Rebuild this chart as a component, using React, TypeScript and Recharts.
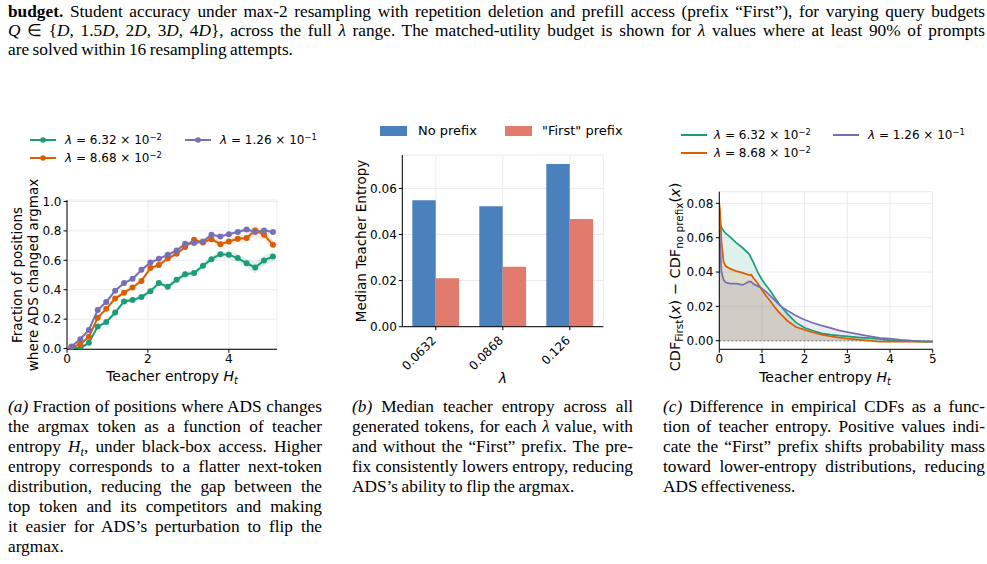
import React from 'react';
import {
  ComposedChart,
  BarChart,
  Bar,
  Line,
  Area,
  XAxis,
  YAxis,
  CartesianGrid,
  ReferenceLine,
} from 'recharts';

// ---------- palette & fonts ----------
const GREEN = '#1b9e77';
const ORANGE = '#d95f02';
const PURPLE = '#7570b3';
const BAR_BLUE = '#4a80bb';
const BAR_RED = '#e07b6d';
const GRID = '#ebebeb';
const SANS = '"DejaVu Sans", Verdana, sans-serif';
const SERIF = '"Liberation Serif", "Times New Roman", serif';

// ---------- (a) argmax flip rate vs. teacher entropy ----------
const entropyBins = [
  0.11, 0.33, 0.54, 0.76, 0.97, 1.19, 1.41, 1.62, 1.84, 2.06, 2.27, 2.49,
  2.71, 2.92, 3.14, 3.36, 3.57, 3.79, 4.0, 4.22, 4.44, 4.65, 4.87, 5.09,
];
const flipLam632 = [
  0.007, 0.003, 0.04, 0.15, 0.18, 0.245, 0.32, 0.33, 0.35, 0.39, 0.445, 0.42,
  0.467, 0.506, 0.513, 0.563, 0.608, 0.642, 0.637, 0.615, 0.58, 0.551, 0.599, 0.626,
];
const flipLam868 = [
  0.007, 0.03, 0.08, 0.21, 0.27, 0.34, 0.38, 0.415, 0.46, 0.547, 0.568, 0.612,
  0.645, 0.69, 0.739, 0.721, 0.744, 0.71, 0.728, 0.746, 0.751, 0.803, 0.773, 0.705,
];
const flipLam126 = [
  0.014, 0.064, 0.127, 0.263, 0.316, 0.393, 0.445, 0.474, 0.535, 0.585, 0.61, 0.637,
  0.667, 0.712, 0.717, 0.728, 0.773, 0.762, 0.778, 0.792, 0.81, 0.792, 0.803, 0.792,
];
const flipErr632 = [
  0.005, 0.005, 0.008, 0.012, 0.012, 0.013, 0.014, 0.014, 0.014, 0.015, 0.018, 0.017,
  0.018, 0.02, 0.02, 0.02, 0.022, 0.022, 0.025, 0.028, 0.03, 0.04, 0.035, 0.03,
];
const flipErr868 = [
  0.005, 0.006, 0.01, 0.012, 0.012, 0.012, 0.013, 0.013, 0.014, 0.014, 0.015, 0.015,
  0.016, 0.017, 0.02, 0.018, 0.02, 0.02, 0.022, 0.024, 0.025, 0.04, 0.035, 0.03,
];
const flipErr126 = [
  0.005, 0.008, 0.01, 0.012, 0.012, 0.012, 0.012, 0.012, 0.012, 0.012, 0.012, 0.012,
  0.012, 0.012, 0.013, 0.013, 0.014, 0.014, 0.014, 0.015, 0.015, 0.016, 0.016, 0.016,
];
const flipTicksX = [0, 2, 4];
const flipTicksY = [0, 0.2, 0.4, 0.6, 0.8, 1.0];

// ---------- (b) median teacher entropy ----------
const lambdaLabels = ['0.0632', '0.0868', '0.126'];
const medianNoPrefix = [0.0549, 0.0523, 0.0706];
const medianFirstPrefix = [0.021, 0.026, 0.0467];
const medianTicksY = [0, 0.02, 0.04, 0.06];

// ---------- (c) CDF difference ----------
const cdfEntropy = [
  0, 0.02, 0.05, 0.1, 0.15, 0.25, 0.4, 0.55, 0.7, 0.75, 0.8, 0.9, 1.0, 1.1, 1.2,
  1.3, 1.4, 1.5, 1.6, 1.8, 2.0, 2.2, 2.4, 2.6, 2.8, 3.0, 3.25, 3.5, 3.75, 4.0,
  4.25, 4.5, 4.75, 5.0,
];
const cdfDiff632 = [
  0.068, 0.068, 0.066, 0.064, 0.0625, 0.0605, 0.057, 0.054, 0.0505, 0.048, 0.0455,
  0.04, 0.0355, 0.032, 0.029, 0.025, 0.0215, 0.0185, 0.0155, 0.0105, 0.0075, 0.0058,
  0.0043, 0.0035, 0.003, 0.0025, 0.002, 0.0015, 0.001, 0.0004, 0.0, -0.0003, -0.0005,
  -0.0005,
];
const cdfDiff868 = [
  0.08, 0.075, 0.058, 0.046, 0.0435, 0.042, 0.0405, 0.0395, 0.0382, 0.0385, 0.0365,
  0.0335, 0.0295, 0.026, 0.023, 0.0195, 0.0165, 0.014, 0.0115, 0.008, 0.0063, 0.0048,
  0.0035, 0.0026, 0.0018, 0.0012, 0.0006, 0.0, -0.0006, -0.0005, -0.0005, -0.0005,
  -0.0006, -0.0006,
];
const cdfDiff126 = [
  0.065, 0.055, 0.04, 0.0355, 0.034, 0.0333, 0.0333, 0.0325, 0.0345, 0.0343, 0.033,
  0.0318, 0.0305, 0.0285, 0.026, 0.0235, 0.021, 0.019, 0.0175, 0.0145, 0.0122, 0.0103,
  0.0088, 0.0075, 0.006, 0.005, 0.0038, 0.0027, 0.0017, 0.0012, 0.0005, 0.0, -0.0003,
  -0.0005,
];
const cdfTicksX = [0, 1, 2, 3, 4, 5];
const cdfTicksY = [0, 0.02, 0.04, 0.06, 0.08];

// ---------- tables for the charts ----------
const flipRows = entropyBins.map((h, i) => ({
  h,
  a: flipLam632[i],
  b: flipLam868[i],
  c: flipLam126[i],
  aBand: [flipLam632[i] - flipErr632[i], flipLam632[i] + flipErr632[i]],
  bBand: [flipLam868[i] - flipErr868[i], flipLam868[i] + flipErr868[i]],
  cBand: [flipLam126[i] - flipErr126[i], flipLam126[i] + flipErr126[i]],
}));

const medianRows = lambdaLabels.map((lam, i) => ({
  lam,
  none: medianNoPrefix[i],
  first: medianFirstPrefix[i],
}));

const cdfRows = cdfEntropy.map((h, i) => ({
  h,
  a: cdfDiff632[i],
  b: cdfDiff868[i],
  c: cdfDiff126[i],
}));

// ---------- shared axis styling ----------
const tickStyle = { fill: '#000', fontSize: 12, fontFamily: SANS };
const axisStroke = { stroke: '#000', strokeWidth: 1 };

// ---------- small text helpers ----------
const Sup = ({ children }: { children: React.ReactNode }) => (
  <span style={{ fontSize: '0.7em', position: 'relative', top: '-0.5em' }}>{children}</span>
);
const Sub = ({ children, size = '0.7em' }: { children: React.ReactNode; size?: string }) => (
  <span style={{ fontSize: size, position: 'relative', top: '0.3em' }}>{children}</span>
);

const LambdaText = ({ mant, exp }: { mant: string; exp: string }) => (
  <span>
    <i>λ</i> = {mant} × 10<Sup>−{exp}</Sup>
  </span>
);

const Abs = ({
  left,
  top,
  children,
}: {
  left: number;
  top: number;
  children: React.ReactNode;
}) => <div style={{ position: 'absolute', left, top }}>{children}</div>;

// a piece of text centred on (cx, cy), optionally turned to read bottom-to-top
const Centered = ({
  cx,
  cy,
  rotate,
  size,
  children,
}: {
  cx: number;
  cy: number;
  rotate?: boolean;
  size: number;
  children: React.ReactNode;
}) => (
  <div
    style={{
      position: 'absolute',
      left: cx,
      top: cy,
      transform: `translate(-50%, -50%)${rotate ? ' rotate(-90deg)' : ''}`,
      whiteSpace: 'nowrap',
      fontFamily: SANS,
      fontSize: size,
      lineHeight: `${Math.round(size * 1.2)}px`,
      color: '#000',
      textAlign: 'center',
    }}
  >
    {children}
  </div>
);

const LineKey = ({
  x,
  y,
  color,
  marker,
}: {
  x: number;
  y: number;
  color: string;
  marker?: boolean;
}) => (
  <svg style={{ position: 'absolute', left: x, top: y - 5 }} width={27} height={10}>
    <line x1={0} y1={5} x2={26} y2={5} stroke={color} strokeWidth={2} />
    {marker && <circle cx={13} cy={5} r={2.8} fill={color} />}
  </svg>
);

const LegendLabel = ({
  x,
  y,
  size = 12,
  children,
}: {
  x: number;
  y: number;
  size?: number;
  children: React.ReactNode;
}) => (
  <div
    style={{
      position: 'absolute',
      left: x,
      top: y - 9,
      height: 18,
      lineHeight: '18px',
      fontFamily: SANS,
      fontSize: size,
      whiteSpace: 'nowrap',
      color: '#000',
    }}
  >
    {children}
  </div>
);

// justified caption lines (the last line of a paragraph stays left-aligned)
const CaptionLines = ({
  left,
  top,
  width,
  pitch = 20,
  lines,
}: {
  left: number;
  top: number;
  width: number;
  pitch?: number;
  lines: React.ReactNode[];
}) => (
  <div style={{ position: 'absolute', left, top, width }}>
    {lines.map((ln, i) => {
      const last = i === lines.length - 1;
      return (
        <div
          key={i}
          style={{
            fontFamily: SERIF,
            fontSize: 17.3,
            wordSpacing: -0.8,
            lineHeight: `${pitch}px`,
            height: pitch,
            whiteSpace: 'nowrap',
            textAlign: last ? 'left' : 'justify',
            textAlignLast: last ? 'left' : 'justify',
            color: '#000',
          }}
        >
          {ln}
        </div>
      );
    })}
  </div>
);

// rotated category tick for panel (b)
const RotatedTick = (props: any) => {
  const { x, y, payload } = props;
  const ax = x + 1;
  const ay = y + 9;
  return (
    <text
      x={ax}
      y={ay}
      transform={`rotate(-45, ${ax}, ${ay})`}
      textAnchor="end"
      fill="#000"
      fontSize={12}
      fontFamily={SANS}
    >
      {payload.value}
    </text>
  );
};

export default function App() {
  return (
    <div
      style={{
        position: 'absolute',
        left: 0,
        top: 0,
        width: 987,
        height: 564,
        background: '#fff',
        overflow: 'hidden',
      }}
    >
      {/* figure caption (continued) */}
      <CaptionLines
        left={8}
        top={1.5}
        width={977}
        pitch={19.4}
        lines={[
          <span key="l1">
            <b>budget.</b> Student accuracy under max-2 resampling with repetition deletion and prefill
            access (prefix “First”), for varying query budgets
          </span>,
          <span key="l2">
            <i>Q</i> ∈ {'{'}
            <i>D</i>, 1.5<i>D</i>, 2<i>D</i>, 3<i>D</i>, 4<i>D</i>
            {'}'}, across the full <i>λ</i> range. The matched-utility budget is shown for <i>λ</i> values
            where at least 90% of prompts
          </span>,
          <span key="l3">are solved within 16 resampling attempts.</span>,
        ]}
      />

      {/* ---------------- panel (a) ---------------- */}
      <LineKey x={30} y={140} color={GREEN} marker />
      <LegendLabel x={65} y={140}>
        <LambdaText mant="6.32" exp="2" />
      </LegendLabel>
      <LineKey x={185} y={140} color={PURPLE} marker />
      <LegendLabel x={220} y={140}>
        <LambdaText mant="1.26" exp="1" />
      </LegendLabel>
      <LineKey x={30} y={158} color={ORANGE} marker />
      <LegendLabel x={65} y={158}>
        <LambdaText mant="8.68" exp="2" />
      </LegendLabel>

      <Abs left={0} top={185}>
        <ComposedChart
          width={300}
          height={200}
          data={flipRows}
          margin={{ top: 15, right: 23, bottom: 5.7, left: 0 }}
        >
          <CartesianGrid stroke={GRID} strokeWidth={1} />
          <XAxis
            dataKey="h"
            type="number"
            domain={[0, 5.19]}
            ticks={flipTicksX}
            allowDataOverflow
            height={30}
            tickSize={3.5}
            tickMargin={2}
            tick={tickStyle}
            axisLine={axisStroke}
            tickLine={axisStroke}
          />
          <YAxis
            type="number"
            domain={[-0.005, 1.01]}
            ticks={flipTicksY}
            allowDataOverflow
            tickFormatter={(v: number) => v.toFixed(1)}
            width={67}
            tickSize={3.5}
            tickMargin={2}
            tick={tickStyle}
            axisLine={axisStroke}
            tickLine={axisStroke}
          />
          <Area dataKey="aBand" stroke="none" fill={GREEN} fillOpacity={0.14} isAnimationActive={false} />
          <Area dataKey="bBand" stroke="none" fill={ORANGE} fillOpacity={0.14} isAnimationActive={false} />
          <Area dataKey="cBand" stroke="none" fill={PURPLE} fillOpacity={0.14} isAnimationActive={false} />
          <Line
            dataKey="a"
            stroke={GREEN}
            strokeWidth={2}
            dot={{ r: 3, fill: GREEN, stroke: GREEN, strokeWidth: 0 }}
            isAnimationActive={false}
          />
          <Line
            dataKey="b"
            stroke={ORANGE}
            strokeWidth={2}
            dot={{ r: 3, fill: ORANGE, stroke: ORANGE, strokeWidth: 0 }}
            isAnimationActive={false}
          />
          <Line
            dataKey="c"
            stroke={PURPLE}
            strokeWidth={2}
            dot={{ r: 3, fill: PURPLE, stroke: PURPLE, strokeWidth: 0 }}
            isAnimationActive={false}
          />
        </ComposedChart>
      </Abs>
      <Centered cx={25} cy={275} rotate size={13.5}>
        Fraction of positions
        <br />
        where ADS changed argmax
      </Centered>
      <Centered cx={172} cy={377} size={14}>
        Teacher entropy <i>H</i>
        <Sub>
          <i>t</i>
        </Sub>
      </Centered>

      {/* ---------------- panel (b) ---------------- */}
      <svg style={{ position: 'absolute', left: 380, top: 126 }} width={27} height={10}>
        <rect x={0} y={0} width={27} height={10} fill={BAR_BLUE} />
      </svg>
      <LegendLabel x={418} y={131} size={13}>
        No prefix
      </LegendLabel>
      <svg style={{ position: 'absolute', left: 505, top: 126 }} width={27} height={10}>
        <rect x={0} y={0} width={27} height={10} fill={BAR_RED} />
      </svg>
      <LegendLabel x={542} y={131} size={13}>
        "First" prefix
      </LegendLabel>

      <Abs left={340} top={145}>
        <BarChart
          width={280}
          height={235}
          data={medianRows}
          margin={{ top: 10, right: 16.7, bottom: 3.3, left: 0 }}
          barGap={0}
          barCategoryGap="15%"
        >
          <CartesianGrid stroke={GRID} strokeWidth={1} />
          <XAxis
            dataKey="lam"
            height={50}
            tickSize={3.5}
            tickMargin={2}
            tick={<RotatedTick />}
            axisLine={axisStroke}
            tickLine={axisStroke}
            interval={0}
          />
          <YAxis
            type="number"
            domain={[0, 0.0745]}
            ticks={medianTicksY}
            allowDataOverflow
            tickFormatter={(v: number) => v.toFixed(2)}
            width={62.3}
            tickSize={3.5}
            tickMargin={2}
            tick={tickStyle}
            axisLine={axisStroke}
            tickLine={axisStroke}
          />
          <Bar dataKey="none" fill={BAR_BLUE} barSize={23.4} isAnimationActive={false} />
          <Bar dataKey="first" fill={BAR_RED} barSize={23.4} isAnimationActive={false} />
        </BarChart>
      </Abs>
      <Centered cx={361} cy={241} rotate size={13.5}>
        Median Teacher Entropy
      </Centered>
      <Centered cx={503} cy={378} size={14}>
        <i>λ</i>
      </Centered>

      {/* ---------------- panel (c) ---------------- */}
      <LineKey x={681} y={135} color={GREEN} />
      <LegendLabel x={714} y={135}>
        <LambdaText mant="6.32" exp="2" />
      </LegendLabel>
      <LineKey x={833} y={135} color={PURPLE} />
      <LegendLabel x={868} y={135}>
        <LambdaText mant="1.26" exp="1" />
      </LegendLabel>
      <LineKey x={681} y={153} color={ORANGE} />
      <LegendLabel x={714} y={153}>
        <LambdaText mant="8.68" exp="2" />
      </LegendLabel>

      <Abs left={680} top={180}>
        <ComposedChart
          width={280}
          height={200}
          data={cdfRows}
          margin={{ top: 11.7, right: 27.3, bottom: 0.7, left: 0 }}
        >
          <CartesianGrid stroke={GRID} strokeWidth={1} />
          <XAxis
            dataKey="h"
            type="number"
            domain={[0, 5]}
            ticks={cdfTicksX}
            allowDataOverflow
            height={30}
            tickSize={3.5}
            tickMargin={2}
            tick={tickStyle}
            axisLine={axisStroke}
            tickLine={axisStroke}
          />
          <YAxis
            type="number"
            domain={[-0.005, 0.0868]}
            ticks={cdfTicksY}
            allowDataOverflow
            tickFormatter={(v: number) => v.toFixed(2)}
            width={39.3}
            tickSize={3.5}
            tickMargin={2.5}
            tick={tickStyle}
            axisLine={axisStroke}
            tickLine={axisStroke}
          />
          <Area dataKey="a" baseValue={0} stroke="none" fill={GREEN} fillOpacity={0.14} isAnimationActive={false} />
          <Area dataKey="b" baseValue={0} stroke="none" fill={ORANGE} fillOpacity={0.14} isAnimationActive={false} />
          <Area dataKey="c" baseValue={0} stroke="none" fill={PURPLE} fillOpacity={0.14} isAnimationActive={false} />
          <ReferenceLine y={0} stroke="#999" strokeWidth={1.5} strokeDasharray="2 2" />
          <Line dataKey="a" stroke={GREEN} strokeWidth={1.7} dot={false} isAnimationActive={false} />
          <Line dataKey="b" stroke={ORANGE} strokeWidth={1.7} dot={false} isAnimationActive={false} />
          <Line dataKey="c" stroke={PURPLE} strokeWidth={1.7} dot={false} isAnimationActive={false} />
        </ComposedChart>
      </Abs>
      <Centered cx={676} cy={277} rotate size={14.5}>
        CDF<Sub size="0.72em">First</Sub>(<i>x</i>) − CDF<Sub size="0.72em">no prefix</Sub>(<i>x</i>)
      </Centered>
      <Centered cx={825} cy={378} size={14}>
        Teacher entropy <i>H</i>
        <Sub>
          <i>t</i>
        </Sub>
      </Centered>

      {/* ---------------- sub-captions ---------------- */}
      <CaptionLines
        left={8}
        top={397}
        width={314}
        lines={[
          <span key="a1">
            <i>(a)</i> Fraction of positions where ADS changes
          </span>,
          'the argmax token as a function of teacher',
          <span key="a3">
            entropy <i>H</i>
            <Sub>
              <i>t</i>
            </Sub>
            , under black-box access. Higher
          </span>,
          'entropy corresponds to a flatter next-token',
          'distribution, reducing the gap between the',
          'top token and its competitors and making',
          'it easier for ADS’s perturbation to flip the',
          'argmax.',
        ]}
      />
      <CaptionLines
        left={352}
        top={397}
        width={281}
        lines={[
          <span key="b1">
            <i>(b)</i> Median teacher entropy across all
          </span>,
          <span key="b2">
            generated tokens, for each <i>λ</i> value, with
          </span>,
          'and without the “First” prefix. The pre-',
          'fix consistently lowers entropy, reducing',
          'ADS’s ability to flip the argmax.',
        ]}
      />
      <CaptionLines
        left={663}
        top={397}
        width={322}
        lines={[
          <span key="c1">
            <i>(c)</i> Difference in empirical CDFs as a func-
          </span>,
          'tion of teacher entropy. Positive values indi-',
          'cate the “First” prefix shifts probability mass',
          'toward lower-entropy distributions, reducing',
          'ADS effectiveness.',
        ]}
      />
    </div>
  );
}
